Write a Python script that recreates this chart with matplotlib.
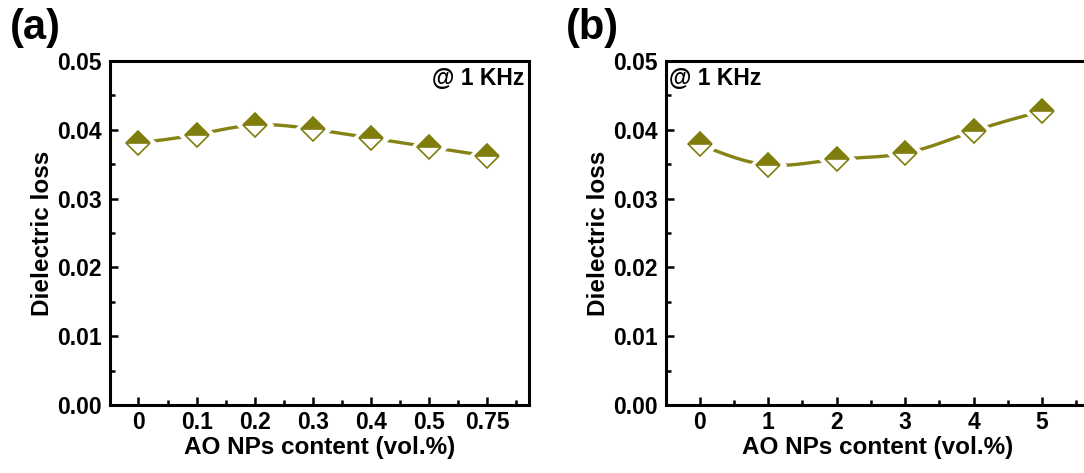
import numpy as np
import matplotlib
matplotlib.use("Agg")
import matplotlib.pyplot as plt
from matplotlib.ticker import MultipleLocator, FormatStrFormatter

plt.rcParams['font.family'] = ['Liberation Sans', 'DejaVu Sans']
plt.rcParams['font.weight'] = 'bold'

# ---- data ----
labels_a = ["0", "0.1", "0.2", "0.3", "0.4", "0.5", "0.75"]
loss_a = [0.0381, 0.0393, 0.0407, 0.0401, 0.0388, 0.0375, 0.0362]
labels_b = ["0", "1", "2", "3", "4", "5"]
loss_b = [0.0379, 0.0349, 0.0357, 0.0366, 0.0398, 0.0427]
annot = "@ 1 KHz"
xlabel = "AO NPs content (vol.%)"
ylabel = "Dielectric loss"

OLIVE = '#7f7d0c'
LINE = '#858315'


def natural_spline(x, y, n=300):
    x = np.asarray(x, float); y = np.asarray(y, float)
    m = len(x)
    h = np.diff(x)
    A = np.zeros((m, m)); r = np.zeros(m)
    A[0, 0] = A[-1, -1] = 1
    for i in range(1, m - 1):
        A[i, i - 1] = h[i - 1]; A[i, i] = 2 * (h[i - 1] + h[i]); A[i, i + 1] = h[i]
        r[i] = 3 * ((y[i + 1] - y[i]) / h[i] - (y[i] - y[i - 1]) / h[i - 1])
    c = np.linalg.solve(A, r)
    b = np.diff(y) / h - h * (2 * c[:-1] + c[1:]) / 3
    d = np.diff(c) / (3 * h)
    xs = np.linspace(x[0], x[-1], n)
    idx = np.clip(np.searchsorted(x, xs) - 1, 0, m - 2)
    dx = xs - x[idx]
    ys = y[idx] + b[idx] * dx + c[idx] * dx ** 2 + d[idx] * dx ** 3
    return xs, ys


def panel(ax, labels, vals, xmax, ann_x, ann_ha):
    x = np.arange(len(labels))
    xs, ys = natural_spline(x, vals)
    ax.plot(xs, ys, color=LINE, lw=2.4, zorder=1, solid_capstyle='butt')
    ax.plot(x, vals, 'D', ms=18, color='white', mec='white', zorder=2)
    ax.plot(x, vals, 'D', ms=12, fillstyle='top', mfc=OLIVE, mfcalt='white',
            mec=OLIVE, mew=1.2, ls='none', zorder=3)
    ax.set_xlim(-0.49, xmax)
    ax.set_ylim(0, 0.05)
    ax.set_xticks(x)
    ax.set_xticklabels(labels)
    ax.xaxis.set_minor_locator(MultipleLocator(0.5))
    ax.yaxis.set_major_locator(MultipleLocator(0.01))
    ax.yaxis.set_minor_locator(MultipleLocator(0.005))
    ax.yaxis.set_major_formatter(FormatStrFormatter('%.2f'))
    ax.tick_params(which='both', direction='in', top=False, right=False,
                   labelsize=16.5, width=1.8)
    ax.tick_params(axis='x', pad=4)
    ax.tick_params(axis='y', pad=6)
    ax.tick_params(which='major', length=6)
    ax.tick_params(which='minor', length=3.5)
    for s in ax.spines.values():
        s.set_linewidth(2.2)
    ax.set_xlabel(xlabel, fontsize=17.5, fontweight='bold', labelpad=2)
    ax.set_ylabel(ylabel, fontsize=17.5, fontweight='bold', labelpad=2)
    ax.text(ann_x, 0.0475, annot, ha=ann_ha, va='center', fontsize=16.5, fontweight='bold')


fig = plt.figure(figsize=(10.84, 4.73), dpi=100)
axa = fig.add_axes([110 / 1084, 68 / 473, 419 / 1084, 344 / 473])
axb = fig.add_axes([666 / 1084, 68 / 473, 424 / 1084, 344 / 473])

panel(axa, labels_a, loss_a, 6.72, 6.64, 'right')
panel(axb, labels_b, loss_b, 5.7, -0.44, 'left')

fig.text(10 / 1084, 1 - 28 / 473, "(a)", fontsize=30, fontweight='bold', va='center', ha='left')
fig.text(566 / 1084, 1 - 28 / 473, "(b)", fontsize=30, fontweight='bold', va='center', ha='left')

fig.savefig("out.png", dpi=100)
